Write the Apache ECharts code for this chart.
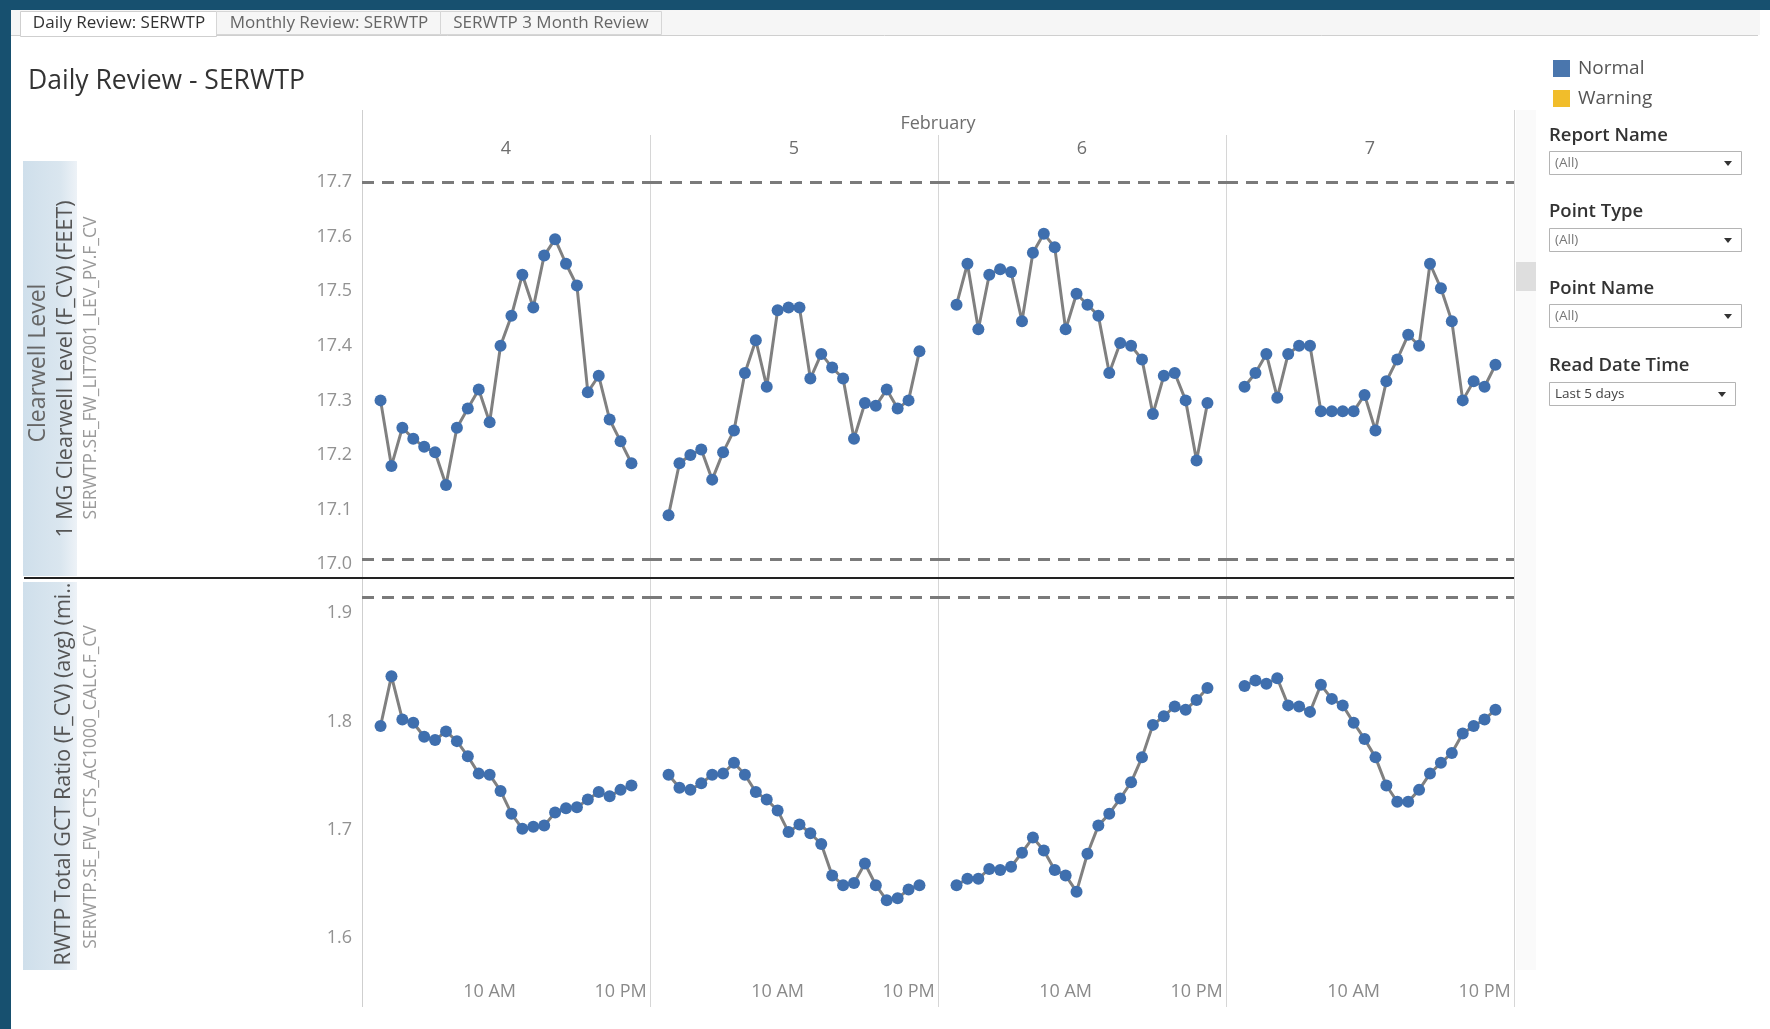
<!DOCTYPE html>
<html><head><meta charset="utf-8">
<script src="https://cdn.jsdelivr.net/npm/echarts@6/dist/echarts.min.js"></script>
<style>html,body{margin:0;padding:0;background:#fff;overflow:hidden}#c{width:1770px;height:1029px}</style>
</head><body><div id="c"></div>
<script>
// ---------------- data ----------------
const monthLabel = 'February';
const dayLabels = ['4', '5', '6', '7'];
const hours = [0,1,2,3,4,5,6,7,8,9,10,11,12,13,14,15,16,17,18,19,20,21,22,23];

const level4 = [17.30,17.18,17.25,17.23,17.215,17.205,17.145,17.25,17.285,17.32,17.26,17.40,17.455,17.53,17.47,17.565,17.595,17.55,17.51,17.315,17.345,17.265,17.225,17.185];
const level5 = [17.09,17.185,17.20,17.21,17.155,17.205,17.245,17.35,17.41,17.325,17.465,17.47,17.47,17.34,17.385,17.36,17.34,17.23,17.295,17.29,17.32,17.285,17.30,17.39];
const level6 = [17.475,17.55,17.43,17.53,17.54,17.535,17.445,17.57,17.605,17.58,17.43,17.495,17.475,17.455,17.35,17.405,17.40,17.375,17.275,17.345,17.35,17.30,17.19,17.295];
const level7 = [17.325,17.35,17.385,17.305,17.385,17.40,17.40,17.28,17.28,17.28,17.28,17.31,17.245,17.335,17.375,17.42,17.40,17.55,17.505,17.445,17.30,17.335,17.325,17.365];

const gct4 = [1.796,1.842,1.802,1.799,1.786,1.783,1.791,1.782,1.768,1.752,1.751,1.736,1.715,1.701,1.703,1.704,1.716,1.720,1.721,1.728,1.735,1.731,1.737,1.741];
const gct5 = [1.751,1.739,1.737,1.743,1.751,1.752,1.762,1.751,1.735,1.728,1.718,1.698,1.705,1.697,1.687,1.658,1.649,1.651,1.669,1.649,1.635,1.637,1.645,1.649];
const gct6 = [1.649,1.655,1.655,1.664,1.663,1.666,1.679,1.693,1.681,1.663,1.658,1.643,1.678,1.704,1.715,1.729,1.744,1.767,1.797,1.805,1.814,1.811,1.820,1.831];
const gct7 = [1.833,1.838,1.835,1.840,1.815,1.814,1.809,1.834,1.821,1.815,1.799,1.784,1.767,1.741,1.726,1.726,1.737,1.752,1.762,1.771,1.789,1.796,1.802,1.811];

const levelTicks = [17.0,17.1,17.2,17.3,17.4,17.5,17.6,17.7];
const gctTicks = [1.6,1.7,1.8,1.9];
const hourTicks = [10, 22];
const hourTickLabels = ['10 AM', '10 PM'];
const levelLimits = [17.7, 17.01];
const gctLimits = [1.915];

const levelByDay = [level4, level5, level6, level7];
const gctByDay = [gct4, gct5, gct6, gct7];

// ---------------- style / layout ----------------
const FONT = "'Open Sans','Noto Sans',sans-serif";
const DOT = '#3f6fae';
const LINE = '#808080';
const PLOT_LEFT = 362, COL_W = 288;
const TOP_Y0 = 161, MID_Y = 578, BOT_Y1 = 970;
const X_MIN = -1.7, X_MAX = 24.7;

const grids = [], xAxes = [], yAxes = [], series = [];
function addPanel(row, dayIdx, vals, yMin, yMax, ticks, limits) {
  const gi = grids.length;
  const top = row === 0 ? TOP_Y0 : MID_Y;
  const h = row === 0 ? MID_Y - TOP_Y0 : BOT_Y1 - MID_Y;
  grids.push({left: PLOT_LEFT + dayIdx * COL_W, top: top, width: COL_W, height: h});
  xAxes.push({
    type: 'value', gridIndex: gi, min: X_MIN, max: X_MAX,
    axisLine: {show: false}, axisTick: {show: false}, splitLine: {show: false},
    axisLabel: {
      show: row === 1, customValues: hourTicks, margin: 13,
      formatter: v => hourTickLabels[hourTicks.indexOf(v)],
      color: '#8a8a8a', fontSize: 18, fontFamily: FONT
    }
  });
  yAxes.push({
    type: 'value', gridIndex: gi, min: yMin, max: yMax,
    axisLine: {show: false}, axisTick: {show: false}, splitLine: {show: false},
    axisLabel: {
      show: dayIdx === 0, customValues: ticks, margin: 10,
      formatter: v => v.toFixed(1),
      color: '#929292', fontSize: 18, fontFamily: FONT
    }
  });
  series.push({
    name: 'Normal', type: 'line', xAxisIndex: gi, yAxisIndex: gi,
    data: hours.map((hh, i) => [hh, vals[i]]),
    symbol: 'circle', symbolSize: 12,
    itemStyle: {color: DOT, borderWidth: 0},
    lineStyle: {color: LINE, width: 3},
    emphasis: {disabled: true},
    markLine: {
      silent: true, symbol: 'none', precision: 4, label: {show: false},
      lineStyle: {color: '#7a7a7a', width: 3, type: [12, 8]},
      data: limits.map(v => ({yAxis: v}))
    },
    z: 3
  });
}
for (let d = 0; d < 4; d++) addPanel(0, d, levelByDay[d], 16.975, 17.738, levelTicks, levelLimits);
for (let d = 0; d < 4; d++) addPanel(1, d, gctByDay[d], 1.5707, 1.9326, gctTicks, gctLimits);
series.push({name: 'Warning', type: 'line', xAxisIndex: 0, yAxisIndex: 0, data: [], itemStyle: {color: '#f1bd2b'}});

// ---------------- decorations ----------------
const G = [];
function rect(x, y, w, h, fill, stroke, lw) {
  G.push({type: 'rect', silent: true, shape: {x, y, width: w, height: h},
    style: {fill: fill || 'none', stroke: stroke || null, lineWidth: lw || 1}});
}
function line(x1, y1, x2, y2, stroke, lw) {
  G.push({type: 'line', silent: true, shape: {x1, y1, x2, y2}, style: {stroke, lineWidth: lw || 1}});
}
function text(x, y, t, size, color, align, weight) {
  G.push({type: 'text', silent: true, x, y, style: {text: t, fill: color,
    font: (weight || 'normal') + ' ' + size + 'px ' + FONT,
    textAlign: align || 'left', textVerticalAlign: 'middle', verticalAlign: 'middle'}});
}
function vtext(x, y, t, size, color) {
  G.push({type: 'text', silent: true, x, y, rotation: Math.PI / 2, style: {text: t, fill: color,
    font: size + 'px ' + FONT, textAlign: 'center', textVerticalAlign: 'middle', verticalAlign: 'middle'}});
}

// frame
rect(0, 0, 1770, 10, '#17506f');
rect(0, 0, 11, 1029, '#17506f');
// tab bar
rect(11, 10, 1749, 25, '#f6f6f6');
line(11, 35.5, 1758, 35.5, '#cfcfcf', 1);
rect(20.5, 11.5, 196, 25, '#ffffff', '#cfcfcf', 1);
rect(216.5, 11.5, 224, 23, '#f6f6f6', '#d6d6d6', 1);
rect(440.5, 11.5, 221, 23, '#f6f6f6', '#d6d6d6', 1);
text(119, 23, 'Daily Review: SERWTP', 17, '#333', 'center');
text(329, 23, 'Monthly Review: SERWTP', 17, '#666', 'center');
text(551, 23, 'SERWTP 3 Month Review', 17, '#666', 'center');
// title
text(28, 81, 'Daily Review - SERWTP', 26.5, '#333', 'left');

// scrollbar track & thumb
rect(1516, 110, 20, 860, '#fafafa');
rect(1516, 262, 20, 29, '#dedede');

// column lines
line(PLOT_LEFT + 0.5, 110, PLOT_LEFT + 0.5, 1007, '#cfcfcf', 1);
for (let d = 1; d < 4; d++) line(PLOT_LEFT + d * COL_W + 0.5, 135, PLOT_LEFT + d * COL_W + 0.5, 1007, '#d6d6d6', 1);
line(PLOT_LEFT + 4 * COL_W + 0.5, 110, PLOT_LEFT + 4 * COL_W + 0.5, 1007, '#d6d6d6', 1);
// headers
text(PLOT_LEFT + 2 * COL_W, 124, monthLabel, 18, '#6e6e6e', 'center');
dayLabels.forEach((d, i) => text(PLOT_LEFT + (i + 0.5) * COL_W, 149, d, 18, '#6e6e6e', 'center'));
// pane separator
line(24, MID_Y, PLOT_LEFT + 4 * COL_W, MID_Y, '#222', 2);

// left row headers
function band(y0, y1) {
  G.push({type: 'rect', silent: true, shape: {x: 23, y: y0, width: 54, height: y1 - y0},
    style: {fill: new echarts.graphic.LinearGradient(0, 0, 1, 0, [
      {offset: 0, color: '#cfdfeb'}, {offset: 0.7, color: '#dae6ef'}, {offset: 1, color: '#edf2f7'}])}});
}
band(TOP_Y0, MID_Y - 2);
band(MID_Y + 4, BOT_Y1);
vtext(38, 363, 'Clearwell Level', 23, '#666');
vtext(66, 369, '1 MG Clearwell Level (F_CV) (FEET)', 21.5, '#555');
vtext(91, 368, 'SERWTP.SE_FW_LIT7001_LEV_PV.F_CV', 17.5, '#9a9a9a');
vtext(64, 774, 'RWTP Total GCT Ratio (F_CV) (avg) (mi..', 21.5, '#555');
vtext(91, 787, 'SERWTP.SE_FW_CTS_AC1000_CALC.F_CV', 17.5, '#9a9a9a');

// filters
function dropdown(labelY, boxY, label, value, w, valColor) {
  text(1549, labelY, label, 18.5, '#333', 'left', '600');
  rect(1549.5, boxY + 0.5, w, 23, '#fff', '#b4b4b4', 1);
  text(1555, boxY + 12, value, 13.5, valColor, 'left');
  const ax = 1549 + w - 13;
  G.push({type: 'polygon', silent: true, shape: {points: [[ax - 4, boxY + 10], [ax + 4, boxY + 10], [ax, boxY + 15]]}, style: {fill: '#333'}});
}
dropdown(136, 151, 'Report Name', '(All)', 192, '#777');
dropdown(212, 228, 'Point Type', '(All)', 192, '#777');
dropdown(289, 304, 'Point Name', '(All)', 192, '#777');
dropdown(366, 382, 'Read Date Time', 'Last 5 days', 186, '#444');

const chart = echarts.init(document.getElementById('c'), null, {renderer: 'canvas'});
chart.setOption({
  animation: false,
  backgroundColor: '#fff',
  legend: {
    orient: 'vertical', left: 1553, top: 59, padding: 0, itemWidth: 17, itemHeight: 17, itemGap: 11,
    icon: 'rect', selectedMode: false,
    textStyle: {fontSize: 19, color: '#555', fontFamily: FONT, padding: [0, 0, 0, 3]},
    data: [{name: 'Normal', itemStyle: {color: '#4a76ad'}}, {name: 'Warning', itemStyle: {color: '#f1bd2b'}}]
  },
  grid: grids, xAxis: xAxes, yAxis: yAxes, series: series,
  graphic: {elements: G}
});
</script></body></html>
